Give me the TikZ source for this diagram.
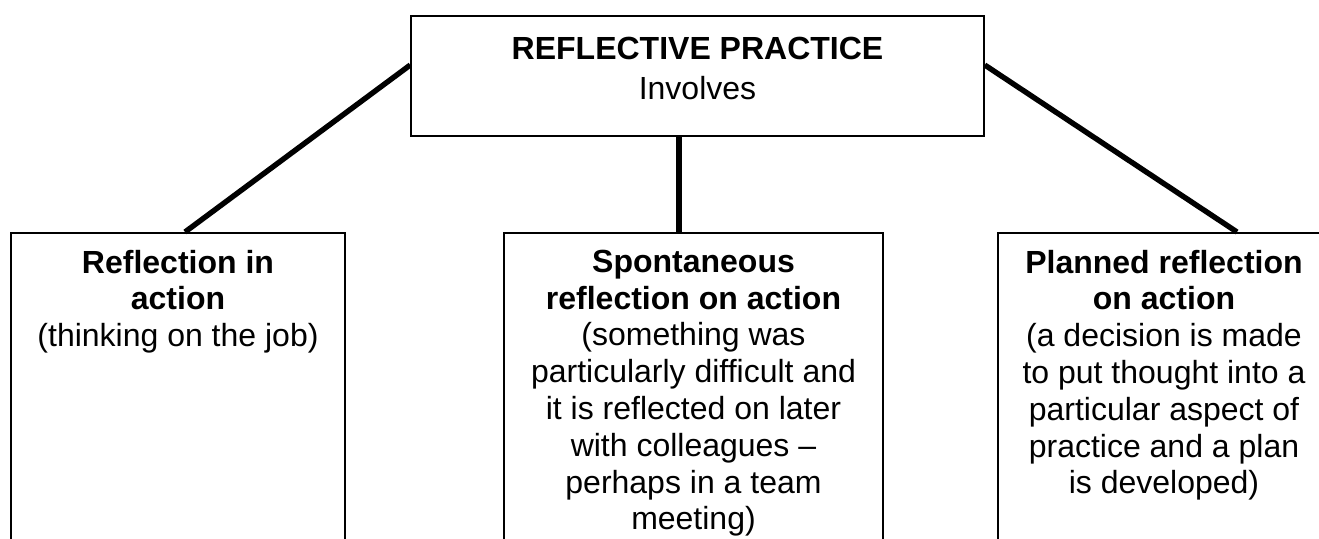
\documentclass[tikz,border=0pt]{standalone}
\usepackage{fontspec}
\setmainfont{Liberation Sans}
\begin{document}
\begin{tikzpicture}[x=0.5pt,y=-0.5pt,
  box/.style={draw=black, line width=0.75pt, inner sep=0pt},
  conn/.style={draw=black, line width=2.7pt},
  txt/.style={font=\fontsize{16}{18.4}\selectfont, align=center, inner sep=0pt, anchor=north}]
\useasboundingbox (0,0) rectangle (1319,538);
\clip (0,0) rectangle (1319,538);
\node[box, minimum width=286.5pt, minimum height=60pt] (top) at (697.5,76) {};
\node[box, minimum width=167pt, minimum height=200pt, anchor=north] (L) at (178,232) {};
\node[box, minimum width=189.5pt, minimum height=200pt, anchor=north] (M) at (693.5,232) {};
\node[box, minimum width=166pt, minimum height=200pt, anchor=north] (R) at (1164,232) {};
\draw[conn] ([yshift=5.5pt]top.west) -- ([xshift=3.5pt]L.north);
\draw[conn] ([yshift=5.5pt]top.east) -- ([xshift=36.5pt]R.north);
\coordinate (mtop) at ([xshift=-9.25pt]top.south);
\draw[conn] (mtop) -- (mtop |- M.north);
\node[txt] (topt) at ([yshift=-10.75pt]top.north) {\textbf{REFLECTIVE PRACTICE}\\[1.5pt]Involves};
\node[txt] (Lt) at ([yshift=-8.75pt]L.north) {\textbf{Reflection in}\\\textbf{action}\\(thinking on the job)};
\node[txt] (Mt) at ([yshift=-8.75pt]M.north) {\textbf{Spontaneous}\\\textbf{reflection on action}\\(something was\\particularly difficult and\\it is reflected on later\\with colleagues –\\perhaps in a team\\meeting)};
\node[txt] (Rt) at ([yshift=-8.75pt]R.north) {\textbf{Planned reflection}\\\textbf{on action}\\(a decision is made\\to put thought into a\\particular aspect of\\practice and a plan\\is developed)};
\end{tikzpicture}
\end{document}
